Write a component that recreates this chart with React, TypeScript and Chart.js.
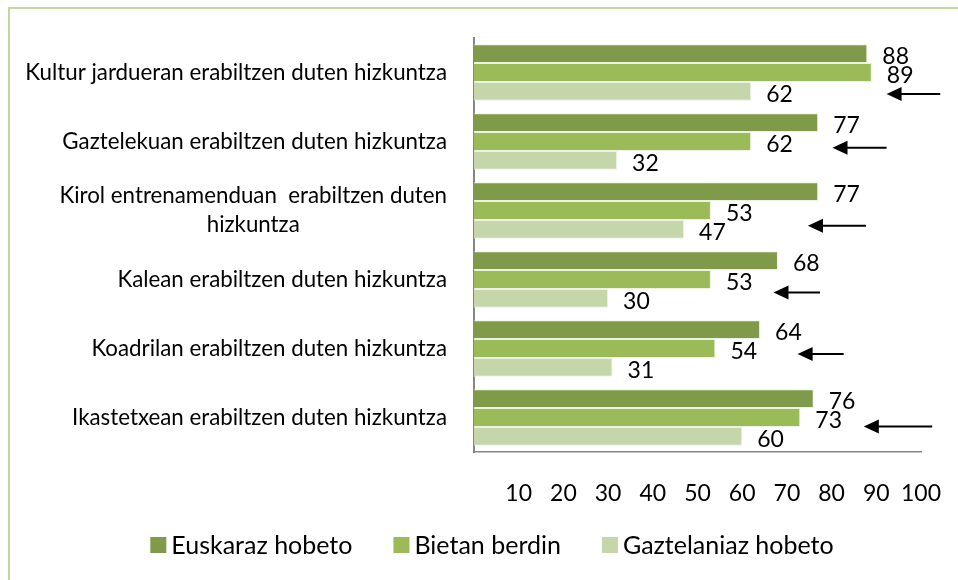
import React, { useEffect, useRef } from "react";
import { Chart, registerables } from "chart.js";

Chart.register(...registerables);

const categories: string[][] = [
  ["Kultur jardueran erabiltzen duten hizkuntza"],
  ["Gaztelekuan erabiltzen duten hizkuntza"],
  ["Kirol entrenamenduan  erabiltzen duten", "hizkuntza"],
  ["Kalean erabiltzen duten hizkuntza"],
  ["Koadrilan erabiltzen duten hizkuntza"],
  ["Ikastetxean erabiltzen duten hizkuntza"],
];
const seriesNames = ["Euskaraz hobeto", "Bietan berdin", "Gaztelaniaz hobeto"];
const euskaraz = [88, 77, 77, 68, 64, 76];
const bietan = [89, 62, 53, 53, 54, 73];
const gaztelaniaz = [62, 32, 47, 30, 31, 60];
const xTicks = [10, 20, 30, 40, 50, 60, 70, 80, 90, 100];

// Annotation arrows (data units): tail value, tip value, vertical offset within the category band
const arrowFrom = [104.3, 92.3, 87.7, 77.4, 82.7, 102.5];
const arrowTo = [92.3, 80.2, 74.7, 67.0, 72.4, 87.2];
const arrowRowOffset = [0.31, 0.09, 0.22, 0.19, 0.08, 0.13];

const colors = ["#7f9a48", "#9bbb59", "#c4d6aa"];
const FONT = "Lato, 'Open Sans', sans-serif";

export default function App() {
  const ref = useRef<HTMLCanvasElement | null>(null);

  useEffect(() => {
    document.body.style.margin = "0";
    const canvas = ref.current;
    if (!canvas) return;

    const framePlugin = {
      id: "frame",
      beforeDraw(chart: any) {
        const ctx = chart.ctx;
        ctx.save();
        ctx.fillStyle = "#ffffff";
        ctx.fillRect(0, 0, chart.width, chart.height);
        ctx.strokeStyle = "#c3d69b";
        ctx.lineWidth = 2;
        ctx.beginPath();
        ctx.moveTo(9, chart.height);
        ctx.lineTo(9, 8);
        ctx.lineTo(chart.width, 8);
        ctx.stroke();
        ctx.restore();
      },
    };

    const catLabelPlugin = {
      id: "catLabels",
      afterDraw(chart: any) {
        const ctx = chart.ctx;
        const y = chart.scales.y;
        const right = chart.chartArea.left - 27;
        const lh = 29;
        ctx.save();
        ctx.font = `22.3px ${FONT}`;
        ctx.fillStyle = "#000";
        ctx.textBaseline = "middle";
        ctx.textAlign = "center";
        categories.forEach((lines, i) => {
          const cy = y.getPixelForValue(i);
          const w = Math.max(...lines.map((l) => ctx.measureText(l).width));
          const cx = right - w / 2;
          const startY = cy - ((lines.length - 1) * lh) / 2;
          lines.forEach((l, j) => ctx.fillText(l, cx, startY + j * lh));
        });
        ctx.restore();
      },
    };

    const valueLabelPlugin = {
      id: "valueLabels",
      afterDatasetsDraw(chart: any) {
        const ctx = chart.ctx;
        ctx.save();
        ctx.font = `23px ${FONT}`;
        ctx.fillStyle = "#000";
        ctx.textBaseline = "middle";
        ctx.textAlign = "left";
        chart.data.datasets.forEach((ds: any, di: number) => {
          const meta = chart.getDatasetMeta(di);
          meta.data.forEach((el: any, i: number) => {
            ctx.fillText(String(ds.data[i]), el.x + 15, el.y + 3);
          });
        });
        ctx.restore();
      },
    };

    const arrowPlugin = {
      id: "arrows",
      afterDraw(chart: any) {
        const ctx = chart.ctx;
        const xs = chart.scales.x;
        const ys = chart.scales.y;
        ctx.save();
        ctx.strokeStyle = "#000";
        ctx.fillStyle = "#000";
        ctx.lineWidth = 2;
        arrowFrom.forEach((from, i) => {
          const x1 = xs.getPixelForValue(from);
          const x2 = xs.getPixelForValue(arrowTo[i]);
          const yy = ys.getPixelForValue(i + arrowRowOffset[i]);
          ctx.beginPath();
          ctx.moveTo(x1, yy);
          ctx.lineTo(x2 + 12, yy);
          ctx.stroke();
          ctx.beginPath();
          ctx.moveTo(x2, yy);
          ctx.lineTo(x2 + 15, yy - 7);
          ctx.lineTo(x2 + 15, yy + 7);
          ctx.closePath();
          ctx.fill();
        });
        ctx.restore();
      },
    };

    const legendPlugin = {
      id: "customLegend",
      afterDraw(chart: any) {
        const ctx = chart.ctx;
        const box = 16;
        const gapText = 5;
        const gapItem = 41;
        const cy = 545;
        ctx.save();
        ctx.font = `25px ${FONT}`;
        ctx.textBaseline = "middle";
        ctx.textAlign = "left";
        const widths = seriesNames.map((n) => ctx.measureText(n).width);
        const total =
          widths.reduce((a, w) => a + box + gapText + w, 0) + gapItem * (seriesNames.length - 1);
        let x = 492 - total / 2;
        seriesNames.forEach((n, i) => {
          ctx.fillStyle = colors[i];
          ctx.fillRect(x, cy - box / 2, box, box);
          ctx.fillStyle = "#000";
          ctx.fillText(n, x + box + gapText, cy + 1);
          x += box + gapText + widths[i] + gapItem;
        });
        ctx.restore();
      },
    };

    const chart = new Chart(canvas, {
      type: "bar",
      data: {
        labels: categories.map((c) => c.join(" ")),
        datasets: [euskaraz, bietan, gaztelaniaz].map((d, i) => ({
          label: seriesNames[i],
          data: d,
          backgroundColor: colors[i],
          borderColor: "rgba(235,242,222,0.9)",
          borderWidth: 1,
          categoryPercentage: 0.82,
          barPercentage: 1,
        })),
      },
      options: {
        indexAxis: "y",
        animation: false,
        responsive: false,
        maintainAspectRatio: false,
        layout: { padding: { top: 38, right: 37, bottom: 56, left: 0 } },
        scales: {
          x: {
            min: 0,
            max: 100,
            grid: { display: false, drawTicks: false },
            border: { display: true, color: "#868686", width: 1.5 },
            afterBuildTicks: (s: any) => {
              s.ticks = xTicks.map((v) => ({ value: v }));
            },
            afterFit: (s: any) => {
              s.height = 72;
              s.paddingLeft = 0;
              s.paddingRight = 0;
            },
            ticks: {
              padding: 28,
              color: "#000",
              font: { family: FONT, size: 23 },
              maxRotation: 0,
              autoSkip: false,
            },
          },
          y: {
            grid: { display: false, drawTicks: false },
            border: { display: true, color: "#868686", width: 2 },
            ticks: { display: false },
            afterFit: (s: any) => {
              s.width = 474;
              s.paddingTop = 0;
              s.paddingBottom = 0;
            },
          },
        },
        plugins: {
          legend: { display: false },
          tooltip: { enabled: false },
        },
      },
      plugins: [framePlugin, catLabelPlugin, valueLabelPlugin, arrowPlugin, legendPlugin],
    } as any);

    return () => chart.destroy();
  }, []);

  return (
    <div style={{ width: 958, height: 580 }}>
      <canvas ref={ref} width={958} height={580} style={{ display: "block" }} />
    </div>
  );
}
